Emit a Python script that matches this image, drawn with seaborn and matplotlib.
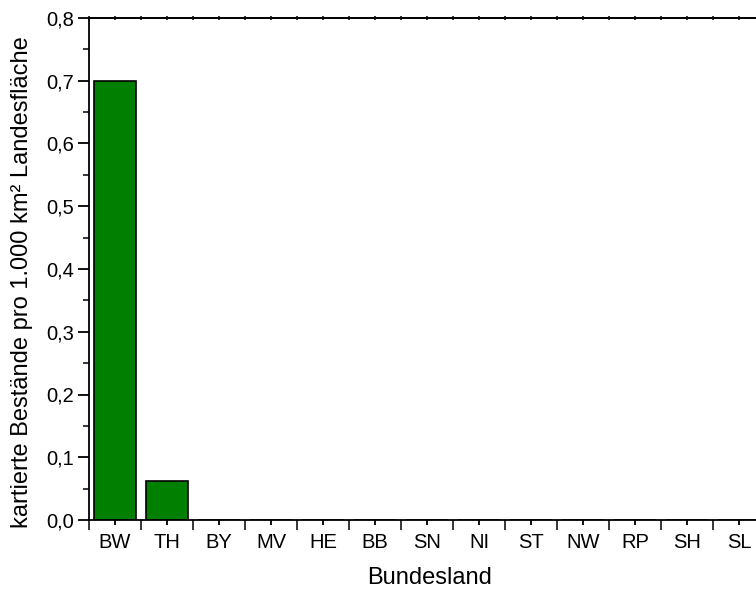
import matplotlib
matplotlib.use("Agg")
import matplotlib.pyplot as plt
import seaborn as sns
import pandas as pd
from matplotlib.ticker import FixedLocator, MultipleLocator, FuncFormatter

laender = ["BW", "TH", "BY", "MV", "HE", "BB", "SN", "NI", "ST", "NW", "RP", "SH", "SL"]
werte = [0.70, 0.062, 0, 0, 0, 0, 0, 0, 0, 0, 0, 0, 0]

df = pd.DataFrame({"Bundesland": laender, "Wert": werte})

sns.set_theme(style="ticks")
plt.rcParams['font.family'] = ['Liberation Sans', 'DejaVu Sans']

fig = plt.figure(figsize=(7.56, 5.90), dpi=100)
ax = fig.add_axes([89/756, 70/590, 1 - 89/756 + 0.02, (520-18)/590])

sns.barplot(data=df, x="Bundesland", y="Wert", color="#007F00", saturation=1,
            width=0.8, edgecolor="black", linewidth=1.2, ax=ax)

ax.set_ylim(0, 0.8)
ax.set_xlim(-0.5, (756 - 89) / 52 - 0.5 + 0.02 * 756 / 52)
ax.yaxis.set_major_locator(MultipleLocator(0.1))
ax.yaxis.set_minor_locator(MultipleLocator(0.05))
ax.yaxis.set_major_formatter(FuncFormatter(lambda v, p: f"{v:.1f}".replace(".", ",")))

n = len(laender)
ax.xaxis.set_major_locator(FixedLocator([i - 0.5 for i in range(n + 2)]))
ax.xaxis.set_minor_locator(FixedLocator(list(range(n))))
ax.set_xticklabels([])
ax.set_xticklabels(laender, minor=True)

for s in ax.spines.values():
    s.set_linewidth(1.3)
    s.set_color("black")
ax.spines["right"].set_visible(False)

ax.tick_params(axis="y", which="major", direction="out", length=8, width=1.3,
               labelsize=14.5, colors="black", pad=3)
ax.tick_params(axis="y", which="minor", direction="out", length=4, width=1.3)
ax.tick_params(axis="x", which="major", direction="out", length=7, width=1.3)
ax.tick_params(axis="x", which="minor", direction="out", length=3.5, width=1.3,
               labelsize=14.5, colors="black", pad=6)

top = ax.secondary_xaxis("top")
top.xaxis.set_major_locator(FixedLocator([i * 0.5 - 0.5 for i in range(2 * n + 4)]))
top.tick_params(direction="inout", length=3, width=1.3, labeltop=False)
top.spines["top"].set_linewidth(1.3)

ax.set_xlabel("Bundesland", fontsize=17, color="black", labelpad=11)
ax.set_ylabel("kartierte Bestände pro 1.000 km² Landesfläche", fontsize=17,
              color="black")
ax.yaxis.set_label_coords(-0.082, 0.474)

fig.savefig("out.png", dpi=100)
